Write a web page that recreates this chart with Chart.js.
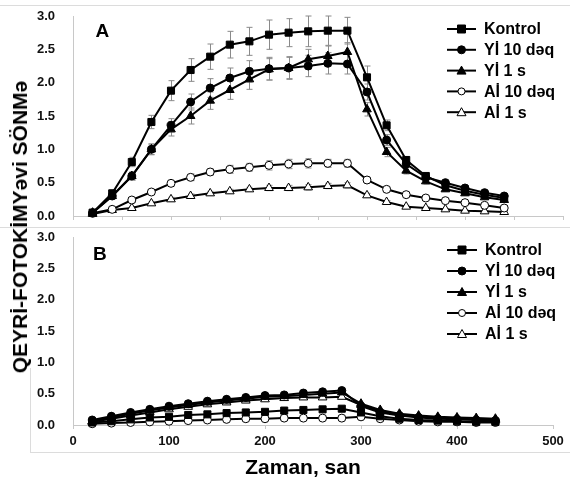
<!DOCTYPE html>
<html><head><meta charset="utf-8">
<script src="https://cdn.jsdelivr.net/npm/chart.js@4.4.0/dist/chart.umd.min.js"></script>
<style>
html,body{margin:0;padding:0;background:#fff;}
#wrap{position:relative;width:570px;height:480px;overflow:hidden;font-family:"Liberation Sans",Arial,sans-serif;}
canvas{position:absolute;left:0;}
#c1{top:0;}
#c2{top:228px;}
.ln{position:absolute;background:#dcdcdc;}
#ytitle{position:absolute;left:20px;top:227px;transform:translate(-50%,-50%) rotate(-90deg);white-space:nowrap;font:bold 21px "Liberation Sans",Arial,sans-serif;color:#000;}
</style></head><body>
<div id="wrap">
<div class="ln" style="left:0;top:5px;width:570px;height:1px"></div>
<div class="ln" style="left:0;top:227px;width:570px;height:1px"></div>
<div class="ln" style="left:30px;top:452px;width:540px;height:1px"></div>
<div class="ln" style="left:30px;top:368px;width:1px;height:84px"></div>
<canvas id="c1" width="570" height="228"></canvas>
<canvas id="c2" width="570" height="252"></canvas>
<div id="ytitle">QEYRİ-FOTOKİMYəvi SÖNMə</div>
</div>
<script>
// ---- data ----
const times = [20,40,60,80,100,120,140,160,180,200,220,240,260,280,300,320,340,360,380,400,420,440];
const seriesNames = ["Kontrol","Yİ 10 dəq","Yİ 1 s","Aİ 10 dəq","Aİ 1 s"];

// Panel A
const aKontrol = [0.05,0.34,0.81,1.41,1.88,2.19,2.39,2.57,2.62,2.72,2.75,2.77,2.78,2.78,2.08,1.36,0.84,0.60,0.46,0.38,0.32,0.27];
const aYi10    = [0.05,0.30,0.60,1.00,1.36,1.71,1.92,2.07,2.17,2.21,2.22,2.25,2.29,2.28,1.86,1.14,0.78,0.58,0.50,0.42,0.35,0.30];
const aYi1     = [0.05,0.30,0.60,1.00,1.30,1.50,1.73,1.89,2.05,2.20,2.22,2.35,2.40,2.46,1.60,0.96,0.68,0.52,0.40,0.34,0.28,0.24];
const aAi10    = [0.04,0.10,0.24,0.36,0.49,0.58,0.66,0.70,0.73,0.76,0.78,0.79,0.79,0.79,0.54,0.40,0.32,0.27,0.23,0.20,0.16,0.12];
const aAi1     = [0.03,0.09,0.12,0.19,0.25,0.30,0.34,0.37,0.40,0.42,0.42,0.43,0.45,0.46,0.31,0.21,0.14,0.12,0.10,0.08,0.07,0.06];

// Panel A error bars
const aKontrolErr = [0.02,0.05,0.07,0.10,0.15,0.17,0.19,0.20,0.21,0.22,0.21,0.23,0.22,0.20,0.17,0.08,0.05,0.04,0.03,0.03,0.03,0.03];
const aYi10Err    = [0.02,0.04,0.06,0.08,0.10,0.12,0.14,0.15,0.16,0.17,0.17,0.16,0.16,0.15,0.12,0.08,0.05,0.04,0.03,0.03,0.03,0.03];
const aYi1Err     = [0.02,0.04,0.06,0.08,0.10,0.12,0.13,0.14,0.15,0.16,0.16,0.15,0.15,0.14,0.10,0.07,0.05,0.04,0.03,0.03,0.03,0.02];
const aAi10Err    = [0.01,0.02,0.03,0.03,0.04,0.05,0.05,0.06,0.06,0.07,0.07,0.07,0.06,0.06,0.04,0.03,0.03,0.02,0.02,0.02,0.02,0.02];
const aAi1Err     = [0.01,0.01,0.02,0.02,0.03,0.03,0.03,0.03,0.03,0.04,0.04,0.04,0.04,0.04,0.03,0.02,0.02,0.02,0.01,0.01,0.01,0.01];

// Panel B
const bKontrol = [0.04,0.06,0.09,0.12,0.13,0.16,0.17,0.19,0.20,0.21,0.23,0.24,0.25,0.26,0.20,0.14,0.10,0.08,0.07,0.06,0.05,0.05];
const bYi10    = [0.08,0.14,0.20,0.25,0.30,0.34,0.38,0.41,0.44,0.47,0.48,0.51,0.53,0.55,0.30,0.20,0.15,0.12,0.10,0.09,0.08,0.07];
const bYi1     = [0.06,0.12,0.18,0.23,0.28,0.32,0.36,0.39,0.42,0.45,0.46,0.48,0.50,0.52,0.34,0.24,0.18,0.15,0.13,0.12,0.11,0.10];
const bAi10    = [0.02,0.03,0.04,0.05,0.06,0.07,0.08,0.09,0.10,0.10,0.11,0.11,0.11,0.11,0.13,0.10,0.08,0.06,0.05,0.05,0.04,0.04];
const bAi1     = [0.05,0.10,0.15,0.20,0.25,0.29,0.33,0.36,0.39,0.41,0.43,0.44,0.44,0.45,0.32,0.22,0.16,0.13,0.11,0.10,0.09,0.08];

const xTicksB = [0,100,200,300,400,500];
const yTicks = [0,0.5,1,1.5,2,2.5,3];
const xTitle = 'Zaman, san';

// ---- styling ----
const FONT = '"Liberation Sans", Arial, sans-serif';
Chart.defaults.font.family = FONT;
const markers = [
  {style:'rect', filled:true, r:5},
  {style:'circle', filled:true, r:4},
  {style:'triangle', filled:true, r:5},
  {style:'circle', filled:false, r:4},
  {style:'triangle', filled:false, r:5}
];
const GRID = '#c8c8c8';

function pts(vals){ return vals.map((v,i)=>({x:times[i], y:v})); }

function makeDatasets(arrs){
  return arrs.map((vals,i)=>({
    label: seriesNames[i],
    data: pts(vals),
    borderColor:'#000',
    borderWidth:2,
    pointStyle: markers[i].style,
    pointRadius: markers[i].r,
    pointBorderWidth: 1,
    pointBackgroundColor: markers[i].filled ? '#000' : '#fff',
    pointBorderColor:'#000',
    tension:0,
    fill:false,
    clip:false
  }));
}

function drawMarker(ctx, m, x, y){
  ctx.save();
  ctx.fillStyle = m.filled ? '#000' : '#fff';
  ctx.strokeStyle = '#000';
  ctx.lineWidth = 1;
  ctx.beginPath();
  if (m.style==='rect'){ ctx.rect(x-4,y-4,8,8); }
  else if (m.style==='circle'){ ctx.arc(x,y,m.filled?4:3.5,0,Math.PI*2); }
  else { ctx.moveTo(x,y-4.5); ctx.lineTo(x+4.5,y+3.5); ctx.lineTo(x-4.5,y+3.5); ctx.closePath(); }
  ctx.fill(); ctx.stroke();
  ctx.restore();
}

function overlayPlugin(letter, letterPos, legendRows, titlePos){
  return {
    id:'overlay'+letter,
    afterDraw(chart){
      const ctx = chart.ctx;
      const xs = chart.scales.x, ys = chart.scales.y;
      ctx.save();
      ctx.fillStyle = '#000';
      ctx.font = 'bold 19px '+FONT;
      ctx.textAlign='center'; ctx.textBaseline='middle';
      ctx.fillText(letter, xs.getPixelForValue(letterPos.x), ys.getPixelForValue(letterPos.y));
      if (titlePos){
        ctx.font = 'bold 21px '+FONT;
        ctx.fillText(xTitle, titlePos.x, titlePos.y);
      }
      ctx.font = 'bold 16px '+FONT;
      ctx.textAlign='left';
      seriesNames.forEach((n,i)=>{
        const yy = legendRows.y0 + i*legendRows.dy;
        ctx.strokeStyle='#000'; ctx.lineWidth=2;
        ctx.beginPath(); ctx.moveTo(legendRows.x0,yy); ctx.lineTo(legendRows.x1,yy); ctx.stroke();
        drawMarker(ctx, markers[i], (legendRows.x0+legendRows.x1)/2, yy);
        ctx.fillStyle='#000';
        ctx.fillText(n, legendRows.tx, yy+1);
      });
      ctx.restore();
    }
  };
}

const errArrays = [aKontrolErr,aYi10Err,aYi1Err,aAi10Err,aAi1Err];
const errorBarPlugin = {
  id:'errbars',
  beforeDatasetsDraw(chart){
    const ctx = chart.ctx;
    const xs = chart.scales.x, ys = chart.scales.y;
    ctx.save();
    ctx.strokeStyle = '#8a8a8a';
    ctx.lineWidth = 1;
    chart.data.datasets.forEach((ds,di)=>{
      const err = errArrays[di];
      ds.data.forEach((p,i)=>{
        const px = Math.round(xs.getPixelForValue(p.x))+0.5;
        const yHi = ys.getPixelForValue(p.y+err[i]);
        const yLo = ys.getPixelForValue(Math.max(0,p.y-err[i]));
        ctx.beginPath();
        ctx.moveTo(px,yHi); ctx.lineTo(px,yLo);
        ctx.moveTo(px-3,yHi); ctx.lineTo(px+3,yHi);
        ctx.moveTo(px-3,yLo); ctx.lineTo(px+3,yLo);
        ctx.stroke();
      });
    });
    ctx.restore();
  }
};

function zeroPad(s){ s.paddingTop=0; s.paddingBottom=0; s.paddingLeft=0; s.paddingRight=0; }

function yScale(){
  return {
    type:'linear', min:0, max:3,
    afterBuildTicks(s){ s.ticks = yTicks.map(v=>({value:v})); },
    afterFit(s){ s.width = 73; zeroPad(s); },
    grid:{display:false, drawTicks:false, tickLength:0},
    border:{display:true, color:GRID, width:1},
    ticks:{padding:18, color:'#111', font:{size:13, weight:'bold'}, callback:v=>v.toFixed(1)}
  };
}

// ---- Chart A ----
new Chart(document.getElementById('c1'), {
  type:'line',
  data:{datasets: makeDatasets([aKontrol,aYi10,aYi1,aAi10,aAi1])},
  options:{
    responsive:false, animation:false, devicePixelRatio:1, events:[],
    layout:{padding:{top:16,right:7,left:0,bottom:0}},
    plugins:{legend:{display:false}, tooltip:{enabled:false}},
    scales:{
      x:{type:'linear', min:0, max:500,
        ticks:{display:false, stepSize:50},
        afterFit(s){ s.height = 12; zeroPad(s); },
        grid:{display:true, drawOnChartArea:false, drawTicks:true, tickLength:4, color:GRID},
        border:{display:true, color:GRID, width:1}
      },
      y: yScale()
    }
  },
  plugins:[errorBarPlugin, overlayPlugin('A', {x:30, y:2.76}, {x0:447, x1:476, tx:484, y0:29, dy:20.8}, null)]
});

// ---- Chart B ----
new Chart(document.getElementById('c2'), {
  type:'line',
  data:{datasets: makeDatasets([bKontrol,bYi10,bYi1,bAi10,bAi1])},
  options:{
    responsive:false, animation:false, devicePixelRatio:1, events:[],
    layout:{padding:{top:9,right:17,left:0,bottom:0}},
    plugins:{legend:{display:false}, tooltip:{enabled:false}},
    scales:{
      x:{type:'linear', min:0, max:500,
        afterBuildTicks(s){ s.ticks = xTicksB.map(v=>({value:v})); },
        afterFit(s){ s.height = 55; zeroPad(s); },
        ticks:{padding:5, color:'#111', font:{size:13, weight:'bold'}},
        grid:{display:true, drawOnChartArea:false, drawTicks:true, tickLength:4, color:GRID},
        border:{display:true, color:GRID, width:1}
      },
      y: yScale()
    }
  },
  plugins:[overlayPlugin('B', {x:28, y:2.71}, {x0:447, x1:477, tx:485, y0:22, dy:21}, {x:303, y:240})]
});
</script>
</body></html>
